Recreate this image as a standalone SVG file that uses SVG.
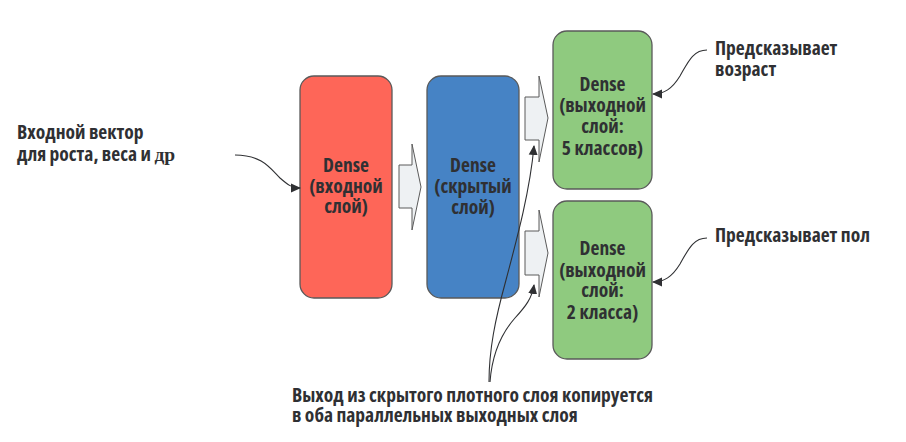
<svg xmlns="http://www.w3.org/2000/svg" width="906" height="442" viewBox="0 0 906 442">
<defs>
<style>
text{font-family:"Open Sans","Liberation Sans",sans-serif;font-weight:bold;font-stretch:condensed;font-size:19.5px;fill:#2f3033}
.c{text-anchor:middle}
.box{stroke:#5a5a5a;stroke-width:1.3}
.blk{fill:#eef1f3;stroke:#5a5a5a;stroke-width:1}
.ln{fill:none;stroke:#2f3033;stroke-width:1.1}
</style>
<marker id="ah" viewBox="0 0 10 10" refX="9" refY="5" markerWidth="10" markerHeight="10" markerUnits="userSpaceOnUse" orient="auto">
<path d="M0,0.5 L10,5 L0,9.5 z" fill="#2f3033"/>
</marker>
</defs>
<rect width="906" height="442" fill="#fff"/>
<g id="input-label">
<text x="17" y="139">Входной вектор</text>
<text x="17" y="161">для роста, веса и <tspan font-family="Liberation Serif,serif" font-stretch="normal">др</tspan></text>
</g>
<g id="dense-input">
<rect class="box" x="300" y="76" width="92" height="222" rx="14" fill="#fe6658"/>
<text class="c" x="346" y="172">Dense</text>
<text class="c" x="346" y="193">(входной</text>
<text class="c" x="346" y="213">слой)</text>
</g>
<g id="dense-hidden">
<rect class="box" x="427" y="76" width="92" height="222" rx="14" fill="#4683c5"/>
<text class="c" x="473" y="172">Dense</text>
<text class="c" x="473" y="193">(скрытый</text>
<text class="c" x="473" y="214">слой)</text>
</g>
<g id="dense-out-age">
<rect class="box" x="553" y="31" width="99" height="158" rx="14" fill="#8fca7f"/>
<text class="c" x="602.5" y="91">Dense</text>
<text class="c" x="602.5" y="112">(выходной</text>
<text class="c" x="602.5" y="133">слой:</text>
<text class="c" x="602.5" y="155">5 классов)</text>
</g>
<g id="dense-out-sex">
<rect class="box" x="553" y="201" width="99" height="158" rx="14" fill="#8fca7f"/>
<text class="c" x="602.5" y="255">Dense</text>
<text class="c" x="602.5" y="277">(выходной</text>
<text class="c" x="602.5" y="297">слой:</text>
<text class="c" x="602.5" y="319">2 класса)</text>
</g>
<g id="label-age">
<text x="715" y="55">Предсказывает</text>
<text x="715" y="76">возраст</text>
</g>
<g id="label-sex">
<text x="715" y="242">Предсказывает пол</text>
</g>
<g id="label-copy">
<text x="292" y="402">Выход из скрытого плотного слоя копируется</text>
<text x="292" y="422">в оба параллельных выходных слоя</text>
</g>
<g id="connectors">
<path class="blk" d="M399,165 H412 V144 L421,187 L412,230 V208 H399 Z"/>
<path class="blk" d="M525,97 H539 V76 L548,118 L539,162 V140 H525 Z"/>
<path class="blk" d="M525,231 H539 V210 L548,253 L539,297 V275 H525 Z"/>
<path class="ln" marker-end="url(#ah)" d="M235,155 C262,155 270,168 280,178 C288,185 292,188 300,188"/>
<path class="ln" marker-end="url(#ah)" d="M707,50 C693,50 688,62 680,76 C672,89 664,94 653,94"/>
<path class="ln" marker-end="url(#ah)" d="M707,238 C693,238 688,250 680,264 C672,277 664,282 653,282"/>
<path class="ln" marker-end="url(#ah)" d="M489,382 C489,350 495,320 506,280 C518,235 530,190 534,146"/>
<path class="ln" marker-end="url(#ah)" d="M490,382 C492,355 500,335 515,318 C526,306 532,298 534,285"/>
</g>
</svg>
